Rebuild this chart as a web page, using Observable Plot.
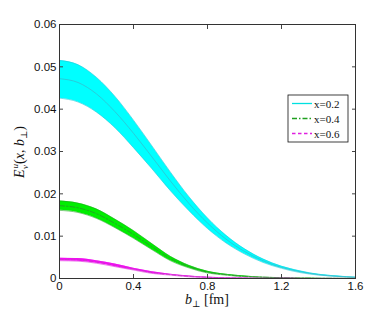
<!DOCTYPE html>
<html>
<head>
<meta charset="utf-8">
<script src="https://cdn.jsdelivr.net/npm/d3@7"></script>
<script src="https://cdn.jsdelivr.net/npm/@observablehq/plot@0.6"></script>
<style>
  html, body { margin: 0; padding: 0; background: #fff; }
  #chart { width: 382px; height: 313px; }
</style>
</head>
<body>
<div id="chart"></div>
<script>
// b_perp grid [fm]
const bPerp = [0, 0.1, 0.2, 0.3, 0.4, 0.5, 0.6, 0.7, 0.8, 0.9, 1.0, 1.1, 1.2, 1.3, 1.4, 1.5, 1.6];

// x = 0.2
const hi02  = [0.0515, 0.0505, 0.0475, 0.0430, 0.0374, 0.0313, 0.0251, 0.0193, 0.0143, 0.0102, 0.0070, 0.0046, 0.0029, 0.0018, 0.0010, 0.0006, 0.0003];
const mid02 = [0.0472, 0.0463, 0.0436, 0.0394, 0.0343, 0.0287, 0.0230, 0.0177, 0.0131, 0.0093, 0.0064, 0.0042, 0.0026, 0.0016, 0.0009, 0.0005, 0.0003];
const lo02  = [0.0426, 0.0417, 0.0393, 0.0356, 0.0309, 0.0259, 0.0207, 0.0160, 0.0118, 0.0084, 0.0058, 0.0038, 0.0024, 0.0014, 0.0008, 0.0005, 0.0003];

// x = 0.4
const hi04  = [0.0183, 0.0178, 0.0164, 0.0140, 0.0113, 0.0082, 0.0052, 0.0031, 0.0017, 0.0010, 0.0006, 0.0003, 0.0002, 0.0001, 0.00006, 0.00003, 0.00002];
const mid04 = [0.0172, 0.0167, 0.0153, 0.0130, 0.0104, 0.0075, 0.0047, 0.0028, 0.0015, 0.0009, 0.0005, 0.0003, 0.0002, 0.0001, 0.00005, 0.00003, 0.00002];
const lo04  = [0.0161, 0.0156, 0.0142, 0.0120, 0.0095, 0.0068, 0.0042, 0.0025, 0.0013, 0.0008, 0.0004, 0.0003, 0.0002, 0.0001, 0.00004, 0.00003, 0.00002];

// x = 0.6
const hi06  = [0.0048, 0.0047, 0.0042, 0.0034, 0.0024, 0.0016, 0.0010, 0.0006, 0.0003, 0.0002, 0.0001, 0.00005, 0.00003, 0.00002, 0.00001, 0.00001, 0.00001];
const mid06 = [0.0045, 0.0044, 0.0039, 0.0031, 0.0022, 0.0014, 0.0009, 0.0005, 0.0003, 0.00015, 0.0001, 0.00004, 0.00002, 0.00001, 0.00001, 0.00001, 0.00001];
const lo06  = [0.0042, 0.0041, 0.0036, 0.0028, 0.0020, 0.0012, 0.0008, 0.0004, 0.0002, 0.0001, 0.00005, 0.00003, 0.00002, 0.00001, 0.00001, 0.00001, 0.00001];

const seriesLabels = ["x=0.2", "x=0.4", "x=0.6"];
const xTicks = [0, 0.4, 0.8, 1.2, 1.6];
const xTickLabels = ["0", "0.4", "0.8", "1.2", "1.6"];
const yTicks = [0, 0.01, 0.02, 0.03, 0.04, 0.05, 0.06];
const yTickLabels = ["0", "0.01", "0.02", "0.03", "0.04", "0.05", "0.06"];

const rows = (lo, mid, hi) => bPerp.map((b, i) => ({b, lo: lo[i], mid: mid[i], hi: hi[i]}));
const r02 = rows(lo02, mid02, hi02);
const r04 = rows(lo04, mid04, hi04);
const r06 = rows(lo06, mid06, hi06);

const styles = [
  {fill: "#00ffff", edge: "#22c8d8", center: "#33bfcf", legend: "#00e0e0", dash: null},
  {fill: "#00ee00", edge: "#22aa22", center: "#2f8f2f", legend: "#1f9f1f", dash: "5,2,1.5,2"},
  {fill: "#ff00ff", edge: "#dd22dd", center: "#c040c0", legend: "#e020e0", dash: "3.5,2.5"}
];

const curve = "monotone-x";
function band(data, st) {
  return [
    Plot.areaY(data, {x: "b", y1: "lo", y2: "hi", fill: st.fill, curve}),
    Plot.lineY(data, {x: "b", y: "hi", stroke: st.edge, strokeWidth: 0.6, curve}),
    Plot.lineY(data, {x: "b", y: "lo", stroke: st.edge, strokeWidth: 0.6, curve}),
    Plot.lineY(data, {x: "b", y: "mid", stroke: st.center, strokeWidth: 0.8, strokeDasharray: st.dash, curve})
  ];
}

const fmtX = d => xTickLabels[xTicks.indexOf(d)] ?? "";
const fmtY = d => yTickLabels[yTicks.findIndex(t => Math.abs(t - d) < 1e-9)] ?? "";

const plot = Plot.plot({
  width: 382,
  height: 313,
  marginLeft: 59,
  marginRight: 27,
  marginTop: 24,
  marginBottom: 35,
  style: {fontFamily: "'Liberation Sans', Arial, sans-serif", fontSize: "11.5px", color: "#111", background: "#fff"},
  x: {domain: [0, 1.6]},
  y: {domain: [0, 0.06]},
  marks: [
    ...band(r02, styles[0]),
    ...band(r04, styles[1]),
    ...band(r06, styles[2]),
    // labels
    Plot.axisX(xTicks, {anchor: "bottom", tickSize: 0, tickPadding: 3, tickFormat: fmtX, label: null, fill: "#111"}),
    Plot.axisY(yTicks, {anchor: "left", tickSize: 0, tickPadding: 3, tickFormat: fmtY, label: null, fill: "#111"}),
    // inward ticks on all sides
    Plot.axisX(xTicks, {anchor: "bottom", tickSize: -4, tickFormat: () => "", label: null, stroke: "#444"}),
    Plot.axisX(xTicks, {anchor: "top", tickSize: -4, tickFormat: () => "", label: null, stroke: "#444"}),
    Plot.axisY(yTicks, {anchor: "left", tickSize: -4, tickFormat: () => "", label: null, stroke: "#444"}),
    Plot.axisY(yTicks, {anchor: "right", tickSize: -4, tickFormat: () => "", label: null, stroke: "#444"}),
    Plot.frame({stroke: "#333", strokeWidth: 1})
  ]
});

document.getElementById("chart").appendChild(plot);

// Axis titles and legend (text and decorations)
const svg = d3.select(plot);
const serif = "'Liberation Serif', 'DejaVu Serif', serif";

// y label
const yl = svg.append("text")
  .attr("transform", "translate(24,152) rotate(-90)")
  .attr("text-anchor", "middle")
  .attr("font-family", serif)
  .attr("font-size", 14)
  .attr("fill", "#111");
yl.append("tspan").attr("font-style", "italic").text("E");
yl.append("tspan").attr("font-style", "italic").attr("font-size", 9).attr("dx", 1).attr("dy", -6).text("u");
yl.append("tspan").attr("font-style", "italic").attr("font-size", 9).attr("dx", -5).attr("dy", 10).text("v");
yl.append("tspan").attr("dx", 1).attr("dy", -4).text("(");
yl.append("tspan").attr("font-style", "italic").text("x");
yl.append("tspan").text(", ");
yl.append("tspan").attr("font-style", "italic").text("b");
yl.append("tspan").attr("font-size", 9).attr("dy", 3).text("⊥");
yl.append("tspan").attr("dy", -3).text(")");

// x label
const xl = svg.append("text")
  .attr("x", 207).attr("y", 304)
  .attr("text-anchor", "middle")
  .attr("font-family", serif)
  .attr("font-size", 14)
  .attr("fill", "#111");
xl.append("tspan").attr("font-style", "italic").text("b");
xl.append("tspan").attr("font-size", 9).attr("dy", 3).text("⊥");
xl.append("tspan").attr("dy", -3).text(" [fm]");

// legend
const lg = svg.append("g");
lg.append("rect").attr("x", 288).attr("y", 95).attr("width", 60).attr("height", 47)
  .attr("fill", "#fff").attr("stroke", "#111").attr("stroke-width", 0.8);
const ly = [103.5, 118.5, 133.5];
seriesLabels.forEach((lab, i) => {
  lg.append("line").attr("x1", 292).attr("x2", 312).attr("y1", ly[i]).attr("y2", ly[i])
    .style("stroke", styles[i].legend)
    .style("stroke-width", "1.3px")
    .style("stroke-dasharray", styles[i].dash || "none");
  lg.append("text").attr("x", 314).attr("y", ly[i] + 4)
    .attr("text-anchor", "start")
    .attr("font-family", serif).attr("font-size", 11).attr("fill", "#111").text(lab);
});
</script>
</body>
</html>
